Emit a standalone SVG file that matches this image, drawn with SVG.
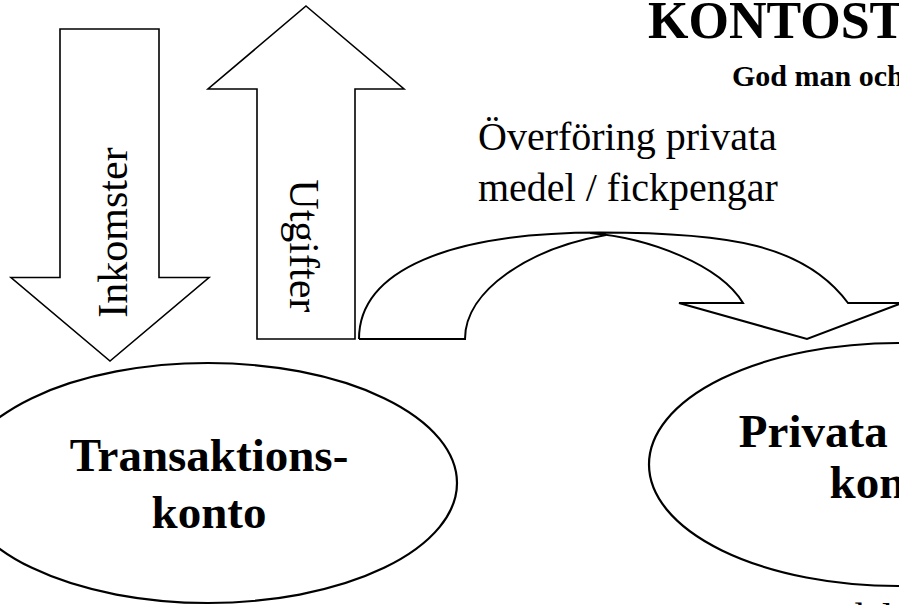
<svg xmlns="http://www.w3.org/2000/svg" width="899" height="605" viewBox="0 0 899 605">
<style>
.shape{fill:#fff;stroke:#000;stroke-width:1.6;stroke-linejoin:miter}
.line{fill:none;stroke:#000;stroke-width:2}
.ell{fill:#fff;stroke:#000;stroke-width:2.2}
text{font-family:"Liberation Serif","Times New Roman",serif;fill:#000}
.b{font-weight:bold}
</style>
<rect width="899" height="605" fill="#fff"/>
<g id="title">
<text class="b" x="648" y="38" font-size="52">KONTOSTRUKTUR</text>
<text class="b" x="732" y="86" font-size="30">God man och förvaltare</text>
</g>
<g id="inkomster">
<polygon class="shape" points="60,29 159,29 159,277.5 209,277.5 110,361 11,277.5 60,277.5"/>
<text x="0" y="0" font-size="42" text-anchor="middle" transform="translate(127,232.5) rotate(-90)">Inkomster</text>
</g>
<g id="utgifter">
<polygon class="shape" points="306,6 404,89 355,89 355,339 257,339 257,89 208,89"/>
<text x="0" y="0" font-size="42" text-anchor="middle" transform="translate(290,245.8) rotate(90)">Utgifter</text>
</g>
<g id="connectors">
<path class="shape" d="M359,339 L465,339 C465,290 530,248 605,235 L600,232.5 C730,232.5 805,245 848,303 L900,303 L807,339 L679,303 L743,303 C720,265 650,238 590,233 L600,232.5 C450,232.5 359,270 359,339 Z" style="stroke:none"/>
<path class="line" d="M359,339 L465,339 C465,290 530,248 606,235"/>
<path class="line" d="M359,339 C359,270 450,232.5 600,232.5 C730,232.5 805,245 848,303 L902,303 L807,339 L679,303 L743,303 C720,265 650,238 590,233"/>
<text x="478" y="150" font-size="40">Överföring privata</text>
<text x="478" y="201" font-size="40">medel / fickpengar</text>
</g>
<g id="transaktionskonto">
<ellipse class="ell" cx="208" cy="483" rx="249" ry="120"/>
<text class="b" x="209" y="470.7" font-size="47" text-anchor="middle">Transaktions-</text>
<text class="b" x="209" y="528" font-size="47" text-anchor="middle">konto</text>
</g>
<g id="privatkonto">
<ellipse class="ell" cx="898" cy="464.5" rx="249" ry="121.5"/>
<text class="b" x="887" y="446.7" font-size="47" text-anchor="middle">Privata medel-</text>
<text class="b" x="887" y="498.3" font-size="47" text-anchor="middle">konto</text>
</g>
<g id="caption">
<text x="672" y="631" font-size="40">Privata medel</text>
</g>
</svg>
